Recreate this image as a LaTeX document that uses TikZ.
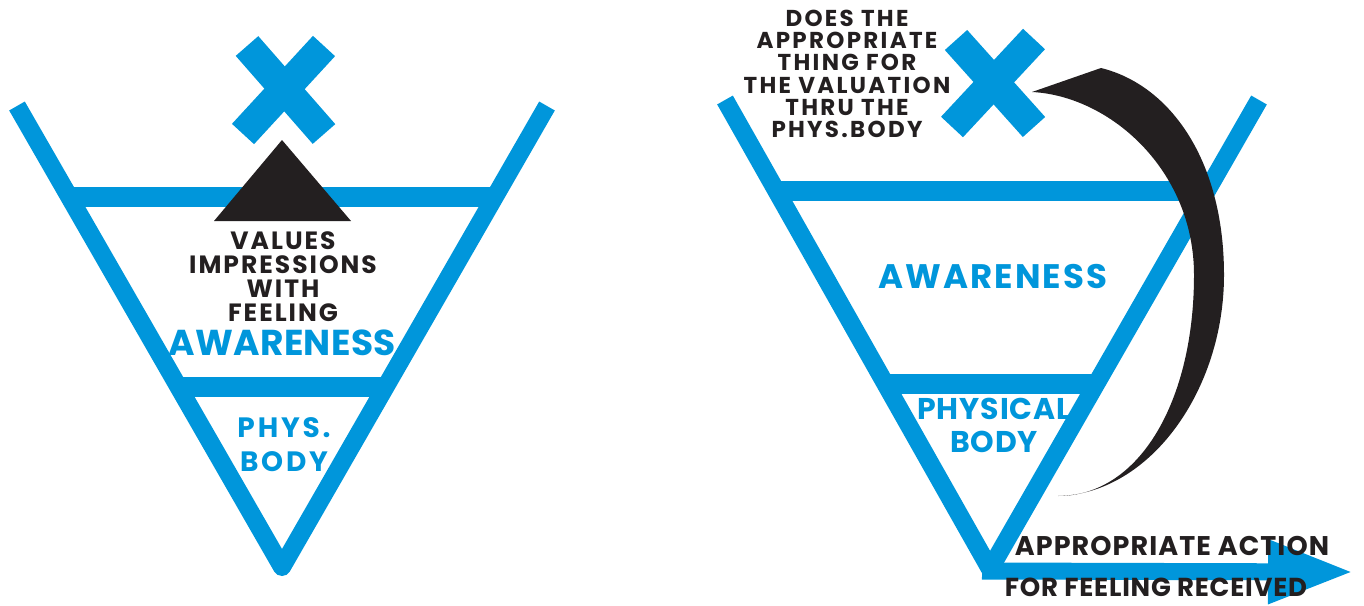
\documentclass[tikz,border=0pt]{standalone}
\usepackage{fontspec}
\setmainfont{Poppins}
\usepackage{xcolor}
\usetikzlibrary{arrows.meta}
\definecolor{vblue}{RGB}{0,150,219}
\definecolor{ink}{RGB}{35,31,32}

\begin{document}
\begin{tikzpicture}[x=1pt,y=-1pt,
  bar/.style={line width=18pt,vblue},
  rung/.style={line width=20pt,vblue},
  crs/.style={line width=30pt,vblue},
  blk/.style={ink,inner sep=0pt,align=center},
  blu/.style={vblue,inner sep=0pt,align=center}]
\useasboundingbox (0,0) rectangle (1364,605);
% left funnel
\coordinate (l1) at (17,106);
\coordinate (l2) at (282,567);
\coordinate (l3) at (547,106);
\draw[rung] (69,197) -- (495,197);
\draw[rung] (178,387) -- (386,387);
\draw[bar,line join=round] (l1) -- (l2) -- (l3);
\draw[crs] (247,46) -- (324,134);
\draw[crs] (324,46) -- (243,134);
\fill[ink] (214,221) -- (351,221) -- (282,140) -- cycle;
\node[blk,anchor=north,font=\bfseries\fontsize{25}{24.3}\selectfont\addfontfeature{LetterSpace=8}]
  (vals) at (283,231) {VALUES\\IMPRESSIONS\\WITH\\FEELING};
\node[blu,anchor=base,font=\bfseries\fontsize{36}{36}\selectfont\addfontfeature{LetterSpace=1}]
  (awl) at (282,355) {AWARENESS};
\node[blu,anchor=north,font=\bfseries\fontsize{28}{34}\selectfont\addfontfeature{LetterSpace=10}]
  (pbl) at (284,417) {PHYS.\\BODY};
% right funnel
\coordinate (r1) at (725,100);
\coordinate (r2) at (990,569);
\coordinate (r3) at (1259,100);
\coordinate (s0) at (982,571);
\coordinate (s1) at (1353,572);
\draw[rung] (777,191) -- (1207,191);
\draw[rung] (887,384) -- (1097,384);
\draw[bar,line join=round] (r1) -- (r2) -- (r3);
\draw[line width=17pt,vblue,-{Triangle[length=85pt,width=60pt]}] (s0) -- (s1);
\draw[crs] (956,40) -- (1034,127);
\draw[crs] (1034,39) -- (952,127);
% curved black arrow
\fill[ink] (1058,496) .. controls (1150,494) and (1224,390) .. (1224,275)
  .. controls (1224,160) and (1170,85) .. (1101,68)
  -- (1032,92)
  .. controls (1110,96) and (1194,170) .. (1194,275)
  .. controls (1194,400) and (1140,496) .. (1058,496) -- cycle;
\node[blk,anchor=north,font=\bfseries\fontsize{23}{22.2}\selectfont\addfontfeature{LetterSpace=10}]
  (does) at (847,10) {DOES THE\\APPROPRIATE\\THING FOR\\THE VALUATION\\THRU THE\\PHYS.BODY};
\node[blu,anchor=base,font=\bfseries\fontsize{34}{34}\selectfont\addfontfeature{LetterSpace=6}]
  (awr) at (993,288) {AWARENESS};
\node[blu,anchor=north,font=\bfseries\fontsize{30}{33}\selectfont\addfontfeature{LetterSpace=3}]
  (pbr) at (994,398) {PHYSICAL\\BODY};
\node[blk,anchor=base,font=\bfseries\fontsize{27}{27}\selectfont\addfontfeature{LetterSpace=4}]
  (act) at (1172,555) {APPROPRIATE ACTION};
\node[blk,anchor=base,font=\bfseries\fontsize{26}{26}\selectfont\addfontfeature{LetterSpace=3}]
  (rcv) at (1156,596) {FOR FEELING RECEIVED};
\end{tikzpicture}
\end{document}
